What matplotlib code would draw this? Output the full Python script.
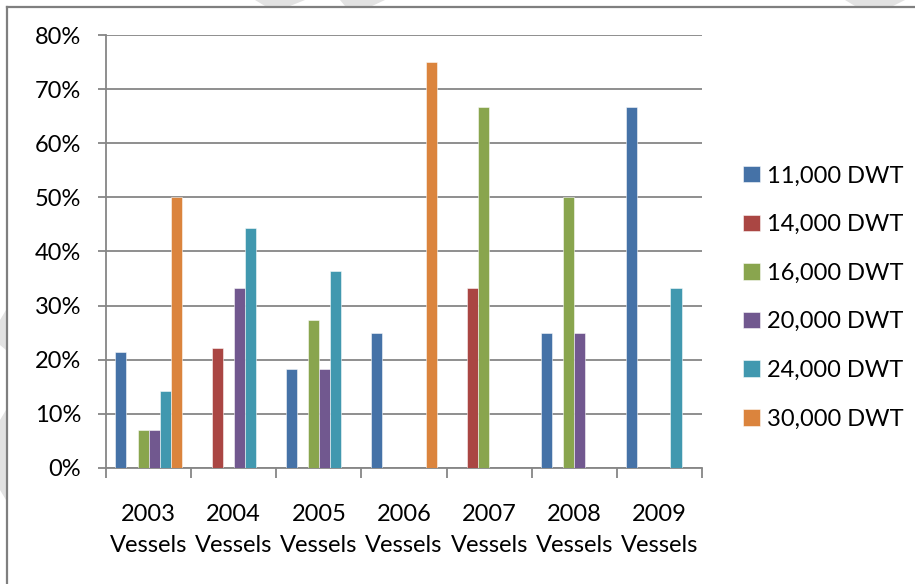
import matplotlib
matplotlib.use("Agg")
import matplotlib.pyplot as plt
from matplotlib.lines import Line2D
from matplotlib.patches import Polygon
import numpy as np

plt.rcParams['font.family'] = ['Lato', 'DejaVu Sans']

categories = ["2003\nVessels", "2004\nVessels", "2005\nVessels", "2006\nVessels",
              "2007\nVessels", "2008\nVessels", "2009\nVessels"]
series_names = ["11,000 DWT", "14,000 DWT", "16,000 DWT",
                "20,000 DWT", "24,000 DWT", "30,000 DWT"]

# share of vessels (%) per size class and delivery year
dwt_11000 = [21.4, 0, 18.2, 25.0, 0, 25.0, 66.7]
dwt_14000 = [0, 22.2, 0, 0, 33.3, 0, 0]
dwt_16000 = [7.1, 0, 27.3, 0, 66.7, 50.0, 0]
dwt_20000 = [7.1, 33.3, 18.2, 0, 0, 25.0, 0]
dwt_24000 = [14.3, 44.4, 36.4, 0, 0, 0, 33.3]
dwt_30000 = [50.0, 0, 0, 75.0, 0, 0, 0]

yticks = [0, 10, 20, 30, 40, 50, 60, 70, 80]
ytick_labels = ["0%", "10%", "20%", "30%", "40%", "50%", "60%", "70%", "80%"]

colors = ["#4572A7", "#AA4643", "#89A54E", "#71588F", "#4198AF", "#DB843D"]
all_series = [dwt_11000, dwt_14000, dwt_16000, dwt_20000, dwt_24000, dwt_30000]

W, H = 915, 584
fs = 17
fig = plt.figure(figsize=(W / 100, H / 100), dpi=100)
fig.patch.set_facecolor("white")

ax = fig.add_axes([106 / W, (H - 468) / H, (702 - 106) / W, (468 - 35) / H])

x = np.arange(len(categories))
bw = 0.13
for i, (vals, name, c) in enumerate(zip(all_series, series_names, colors)):
    ax.bar(x + (i - 2.5) * bw, vals, width=bw, color=c, label=name,
           edgecolor=(1, 1, 1, 0.6), linewidth=0.6, zorder=3)

grid_c = "#868686"
ax.set_ylim(0, 80)
ax.set_xlim(-0.5, len(categories) - 0.5)
ax.set_yticks(yticks)
ax.set_yticklabels(ytick_labels)
ax.yaxis.grid(True, color=grid_c, linewidth=1.3, zorder=0)
ax.set_axisbelow(True)

ax.set_xticks(np.arange(len(categories) + 1) - 0.5)
ax.set_xticklabels([])
ax.set_xticks(x, minor=True)
ax.set_xticklabels(categories, minor=True, fontsize=fs, linespacing=1.6)
ax.tick_params(axis="x", which="minor", length=0, pad=26)
ax.tick_params(axis="x", which="major", length=7, width=1.3, color=grid_c, direction="out")
ax.tick_params(axis="y", length=6, width=1.3, color=grid_c, direction="out",
               labelsize=fs, pad=12)

for s in ["top", "right"]:
    ax.spines[s].set_visible(False)
for s in ["left", "bottom"]:
    ax.spines[s].set_color(grid_c)
    ax.spines[s].set_linewidth(1.3)

leg = fig.legend(loc="upper left", bbox_to_anchor=(734 / W, 1 - 156 / H),
                 frameon=False, fontsize=fs, handlelength=0.7, handleheight=0.7,
                 handletextpad=0.3, labelspacing=1.17, borderaxespad=0)

# outer chart border
border_c = "#7F7F7F"
fig.add_artist(Line2D([7 / W, 7 / W], [0, 1 - 7 / H], transform=fig.transFigure,
                      color=border_c, linewidth=1.6))
fig.add_artist(Line2D([7 / W, 1], [1 - 7 / H, 1 - 7 / H], transform=fig.transFigure,
                      color=border_c, linewidth=1.6))

# faint page decorations around the chart frame
shade = "#E2E2E2"
def px(pts):
    return [(px_ / W, 1 - py_ / H) for px_, py_ in pts]
for pts in [
    [(255, 0), (305, 0), (290, 6), (265, 6)],
    [(340, 0), (385, 0), (372, 6), (345, 6)],
    [(845, 0), (905, 0), (893, 6), (855, 6)],
    [(0, 320), (6, 310), (6, 350), (0, 345)],
    [(0, 420), (6, 410), (6, 500), (0, 490)],
]:
    fig.add_artist(Polygon(px(pts), closed=True, transform=fig.transFigure,
                           facecolor=shade, edgecolor="none", zorder=-1))

fig.savefig("out.png", dpi=100, facecolor="white")
